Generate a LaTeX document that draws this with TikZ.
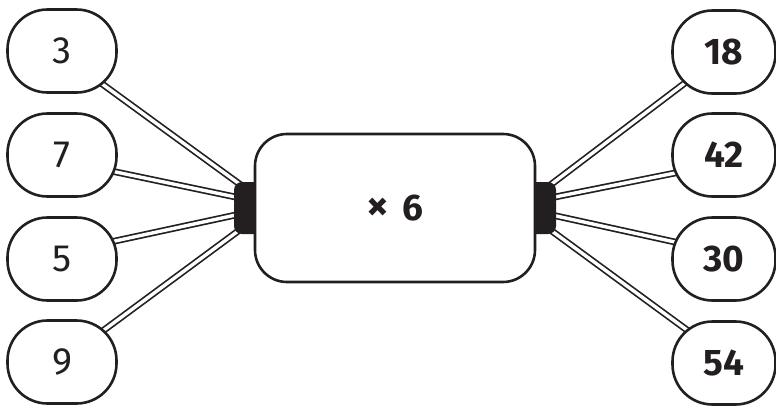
\documentclass[tikz,border=0pt]{standalone}
\usepackage{fontspec}
\setmainfont{Fira Sans}
\definecolor{ink}{HTML}{231F20}
\pgfdeclarelayer{bg}
\pgfsetlayers{bg,main}
\begin{document}
\begin{tikzpicture}[x=1pt,y=-1pt,
  oval/.style={draw=ink, line width=2.6pt, fill=white, rounded corners=40pt,
    minimum width=109pt, minimum height=83pt, inner sep=0pt, text=ink,
    font=\fontsize{38}{38}\selectfont},
  ans/.style={oval, minimum width=103pt, font=\fontsize{37}{37}\selectfont\bfseries},
  link/.style={draw=ink, line width=1.7pt, double=white, double distance=3.4pt},
  tabbox/.style={fill=ink, rounded corners=8pt, minimum width=28pt, minimum height=52pt, inner sep=0pt},
  opbox/.style={draw=ink, line width=2.6pt, fill=white, rounded corners=32pt,
    minimum width=280pt, minimum height=148pt, inner sep=0pt, text=ink,
    font=\fontsize{37}{37}\selectfont\bfseries}]
\useasboundingbox (0,0) rectangle (776,405);
% inputs
\node[oval] (q1) at (62,51) {3};
\node[oval] (q2) at (62,155) {7};
\node[oval] (q3) at (62,259) {5};
\node[oval] (q4) at (62,362) {9};
% outputs
\node[ans] (a1) at (724,52) {18};
\node[ans] (a2) at (724,155) {42};
\node[ans] (a3) at (724,259) {30};
\node[ans] (a4) at (724,363) {54};
% tabs and machine
\node[tabbox] (tl) at (248,208) {};
\node[tabbox] (tr) at (542,208) {};
\node[opbox] (op) at (395,208) {{\fontsize{44}{44}\selectfont ×}\hspace*{14pt}6};
% connector ends
\coordinate (l1) at (245,188);
\coordinate (l2) at (245,199);
\coordinate (l3) at (245,213);
\coordinate (l4) at (245,226);
\coordinate (r1) at (545,189);
\coordinate (r2) at (545,199);
\coordinate (r3) at (545,213.5);
\coordinate (r4) at (545,226);
\begin{pgfonlayer}{bg}
\draw[link] ([shift={(26.8,23.2)}]q1.center) -- (l1);
\draw[link] ([shift={(34.4,12.9)}]q2.center) -- (l2);
\draw[link] ([shift={(33.5,-13.8)}]q3.center) -- (l3);
\draw[link] ([shift={(25.9,-20.1)}]q4.center) -- (l4);
\draw[link] ([shift={(-23.1,18.9)}]a1.center) -- (r1);
\draw[link] ([shift={(-29.4,14.1)}]a2.center) -- (r2);
\draw[link] ([shift={(-29.5,-12.7)}]a3.center) -- (r3);
\draw[link] ([shift={(-20.9,-21.2)}]a4.center) -- (r4);
\end{pgfonlayer}
\end{tikzpicture}
\end{document}
